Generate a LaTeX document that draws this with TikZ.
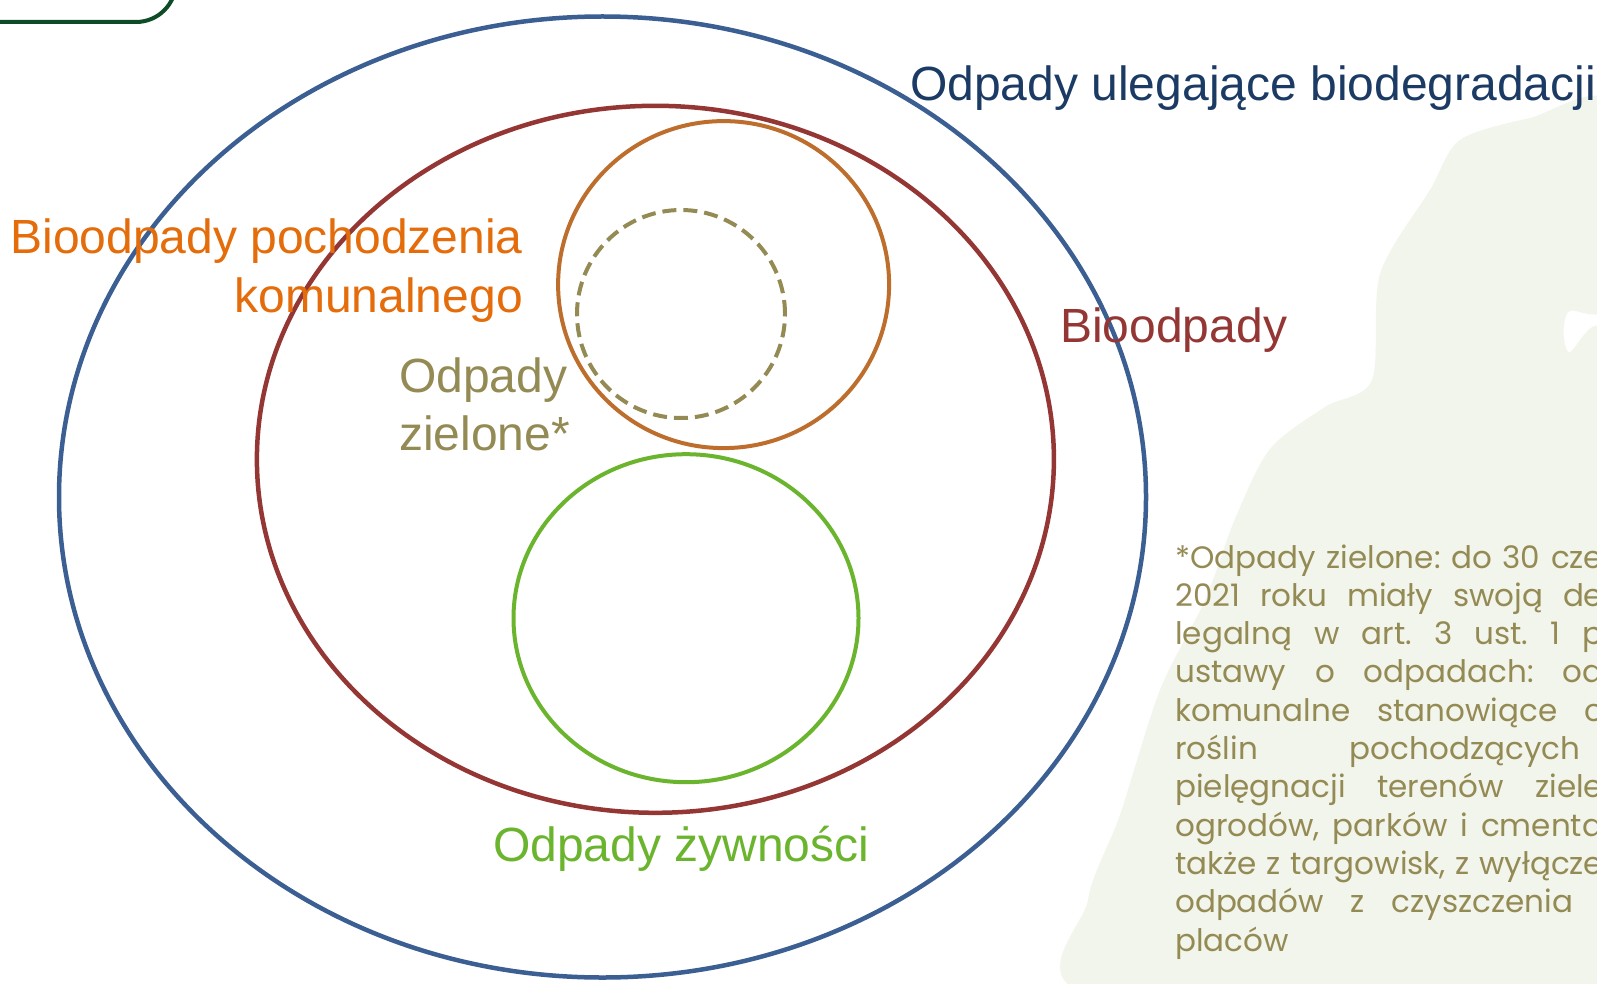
\documentclass[tikz,border=0pt]{standalone}
\usepackage{fontspec}
\setmainfont{Liberation Sans}
\newfontfamily\notefont{Poppins}
\usetikzlibrary{shapes.geometric}

\definecolor{titleblue}{HTML}{1B3A64}
\definecolor{ringblue}{HTML}{3B5F92}
\definecolor{biored}{HTML}{943634}
\definecolor{komorange}{HTML}{E46C0A}
\definecolor{ringorange}{HTML}{BE6E2C}
\definecolor{zielolive}{HTML}{948A54}
\definecolor{foodgreen}{HTML}{6BB42E}
\definecolor{framegreen}{HTML}{0E4B27}
\definecolor{treeshade}{HTML}{F2F5EC}

\tikzset{
  ring/.style={ellipse, draw, line width=4.5pt, inner sep=0pt},
  lbl/.style={inner sep=0pt, font=\fontsize{48}{57}\selectfont},
  noteline/.style={inner sep=0pt, anchor=base west, text=zielolive, font=\notefont\fontsize{31}{38}\selectfont\frenchspacing},
}

\begin{document}
\begin{tikzpicture}[x=1pt, y=-1pt]
    \useasboundingbox (0,0) rectangle (1597,984);
    \fill[white] (0,0) rectangle (1597,984);
    \begin{scope}
        \clip (0,0) rectangle (1597,984);
        % faint tree in the background
        \fill[treeshade] plot[smooth cycle, tension=0.5] coordinates {(1460,140) (1530,118) (1610,105) (1610,300) (1568,312) (1568,352) (1610,368) (1610,995) (1095,995) (1088,900) (1120,815) (1160,690) (1205,600) (1235,519) (1270,449) (1325,407) (1372,380) (1380,274) (1430,190)};
        \draw[framegreen, line width=4pt, rounded corners=40pt] (-60,-60) rectangle (176,22);
    \end{scope}

    \node[ring, draw=ringblue, minimum width=1087pt, minimum height=961pt] (ubd) at (602.5,497) {};
    \node[ring, draw=biored, minimum width=797pt, minimum height=707pt] (bio) at (655.4,459.3) {};
    \node[ring, draw=ringorange, line width=4pt, minimum width=331pt, minimum height=327pt] (kom) at (723.6,284.6) {};
    \node[ring, draw=zielolive, line width=4pt, dash pattern=on 14pt off 7pt, minimum size=208pt] (ziel) at (681,314) {};
    \node[ring, draw=foodgreen, line width=4pt, minimum width=345pt, minimum height=328pt] (food) at (686,618.2) {};

    \node[lbl, anchor=base west, text=titleblue] (ubdL) at (910,101) {Odpady ulegające biodegradacji};
    \node[lbl, anchor=base west, text=biored] (bioL) at (1060,342) {Bioodpady};
    \node[lbl, anchor=base east, text=komorange] (komL) at (523,254) {Bioodpady pochodzenia};
    \node[lbl, anchor=base east, text=komorange] (komL2) at (523,312) {komunalnego};
    \node[lbl, anchor=base west, text=zielolive] (zielL) at (399,392) {Odpady};
    \node[lbl, anchor=base west, text=zielolive] (zielL2) at (399,450) {zielone*};
    \node[lbl, anchor=base west, text=foodgreen] (foodL) at (493,861) {Odpady żywności};

    % footnote, cut at the right edge
    \begin{scope}
        \clip (0,0) rectangle (1597,984);
        \foreach \txt/\w [count=\i] in {{*Odpady zielone: do 30 cze}/428, {2021 roku miały swoją de}/428, {legalną w art. 3 ust. 1 p}/428, {ustawy o odpadach: od}/428, {komunalne stanowiące c}/428, {roślin pochodzących}/405, {pielęgnacji terenów ziele}/428, {ogrodów, parków i cmenta}/428, {także z targowisk, z wyłącze}/428, {odpadów z czyszczenia}/398}
            \node[noteline] (note\i) at (1175,{568+38.3*(\i-1)}) {\makebox[\w pt][s]{\txt}};
        \node[noteline] (note11) at (1175,951) {placów};
    \end{scope}
\end{tikzpicture}
\end{document}
